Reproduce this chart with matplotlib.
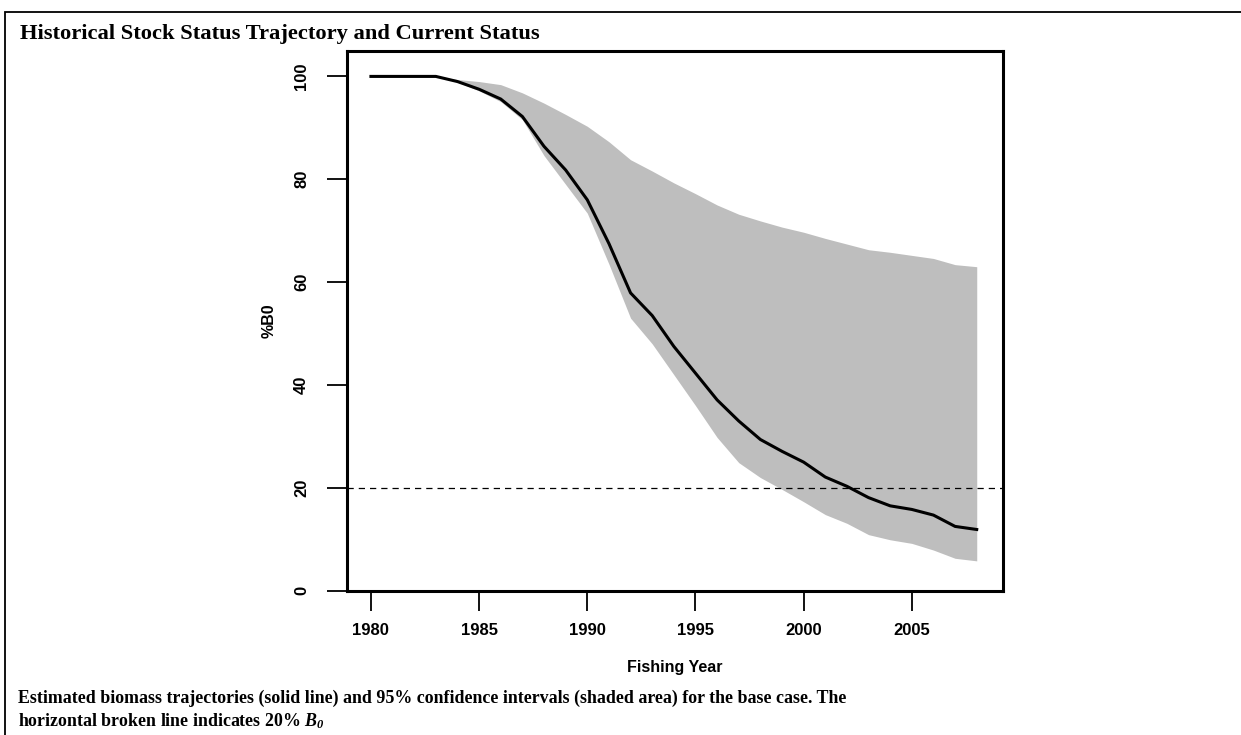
import matplotlib.pyplot as plt
from matplotlib.patches import Rectangle

years = list(range(1980, 2009))

# Median %B0 trajectory
b0_median = [
    100, 100, 100, 100, 99.0, 97.5, 95.6, 92.2, 86.4, 81.8,
    76.0, 67.5, 57.9, 53.5, 47.5, 42.3, 37.1, 33.0, 29.4, 27.1,
    25.0, 22.1, 20.3, 18.1, 16.5, 15.8, 14.7, 12.5, 11.9
]

# 95% confidence bounds
b0_upper = [
    100, 100, 100, 100, 99.4, 99.0, 98.4, 96.8, 94.8, 92.6,
    90.3, 87.3, 83.8, 81.6, 79.3, 77.2, 75.0, 73.2, 71.9, 70.7,
    69.7, 68.5, 67.4, 66.3, 65.8, 65.2, 64.6, 63.4, 63.0
]
b0_lower = [
    100, 100, 100, 100, 98.9, 97.2, 95.1, 91.6, 84.6, 79.0,
    73.4, 63.5, 53.0, 48.0, 42.0, 36.0, 29.8, 24.9, 22.0, 19.7,
    17.3, 14.8, 13.1, 10.9, 9.9, 9.2, 7.9, 6.3, 5.8
]

ref_level = 20
xticks = [1980, 1985, 1990, 1995, 2000, 2005]
yticks = [0, 20, 40, 60, 80, 100]

plt.rcParams['mathtext.fontset'] = 'custom'
plt.rcParams['mathtext.rm'] = 'Liberation Serif'
plt.rcParams['mathtext.bfit'] = 'Liberation Serif:italic:bold'

fig = plt.figure(figsize=(12.41, 7.35), dpi=100)

# thin frame round the whole figure
fig.patches.append(Rectangle((5 / 1241, -0.05), 1.1, 1 - 12 / 735 + 0.05,
                             transform=fig.transFigure, fill=False,
                             edgecolor='black', linewidth=1.3))

fig.text(20 / 1241, 1 - 39 / 735, 'Historical Stock Status Trajectory and Current Status',
         family='Liberation Serif', fontweight='bold', fontsize=16.2, va='baseline')

ax = fig.add_axes([346.7 / 1241, 1 - 590.7 / 735, 656 / 1241, 540 / 735])
ax.fill_between(years, b0_lower, b0_upper, color='#bebebe', linewidth=0)
ax.plot(years, b0_median, color='black', linewidth=2.2)
ax.axhline(ref_level, color='black', linewidth=0.9, linestyle=(0, (5, 4)))

ax.set_xlim(1978.88, 2009.2)
ax.set_ylim(0, 105)
ax.set_xticks(xticks)
ax.set_yticks(yticks)
ax.set_xticklabels([str(v) for v in xticks], family='Liberation Sans',
                   fontweight='bold', fontsize=12)
ax.set_yticklabels([str(v) for v in yticks], family='Liberation Sans',
                   fontweight='bold', fontsize=12, rotation=90, va='center')
ax.tick_params(direction='out', length=14.5, width=1.3)
ax.tick_params(axis='x', pad=8.5)
ax.tick_params(axis='y', pad=12.5)
for s in ax.spines.values():
    s.set_linewidth(2.2)

ax.set_xlabel('Fishing Year', family='Liberation Sans', fontweight='bold',
              fontsize=11.5, labelpad=16)
ax.set_ylabel('%B0', family='Liberation Sans', fontweight='bold',
              fontsize=11.5, labelpad=13)

fig.text(18 / 1241, 1 - 703 / 735,
         'Estimated biomass trajectories (solid line) and 95% confidence intervals '
         '(shaded area) for the base case. The',
         family='Liberation Serif', fontweight='bold', fontsize=12.9, va='baseline')
fig.text(18 / 1241, 1 - 726 / 735,
         r'horizontal broken line indicates 20% $\mathbfit{B_0}$',
         family='Liberation Serif', fontweight='bold', fontsize=12.9, va='baseline')

fig.savefig('out.png', dpi=100)
